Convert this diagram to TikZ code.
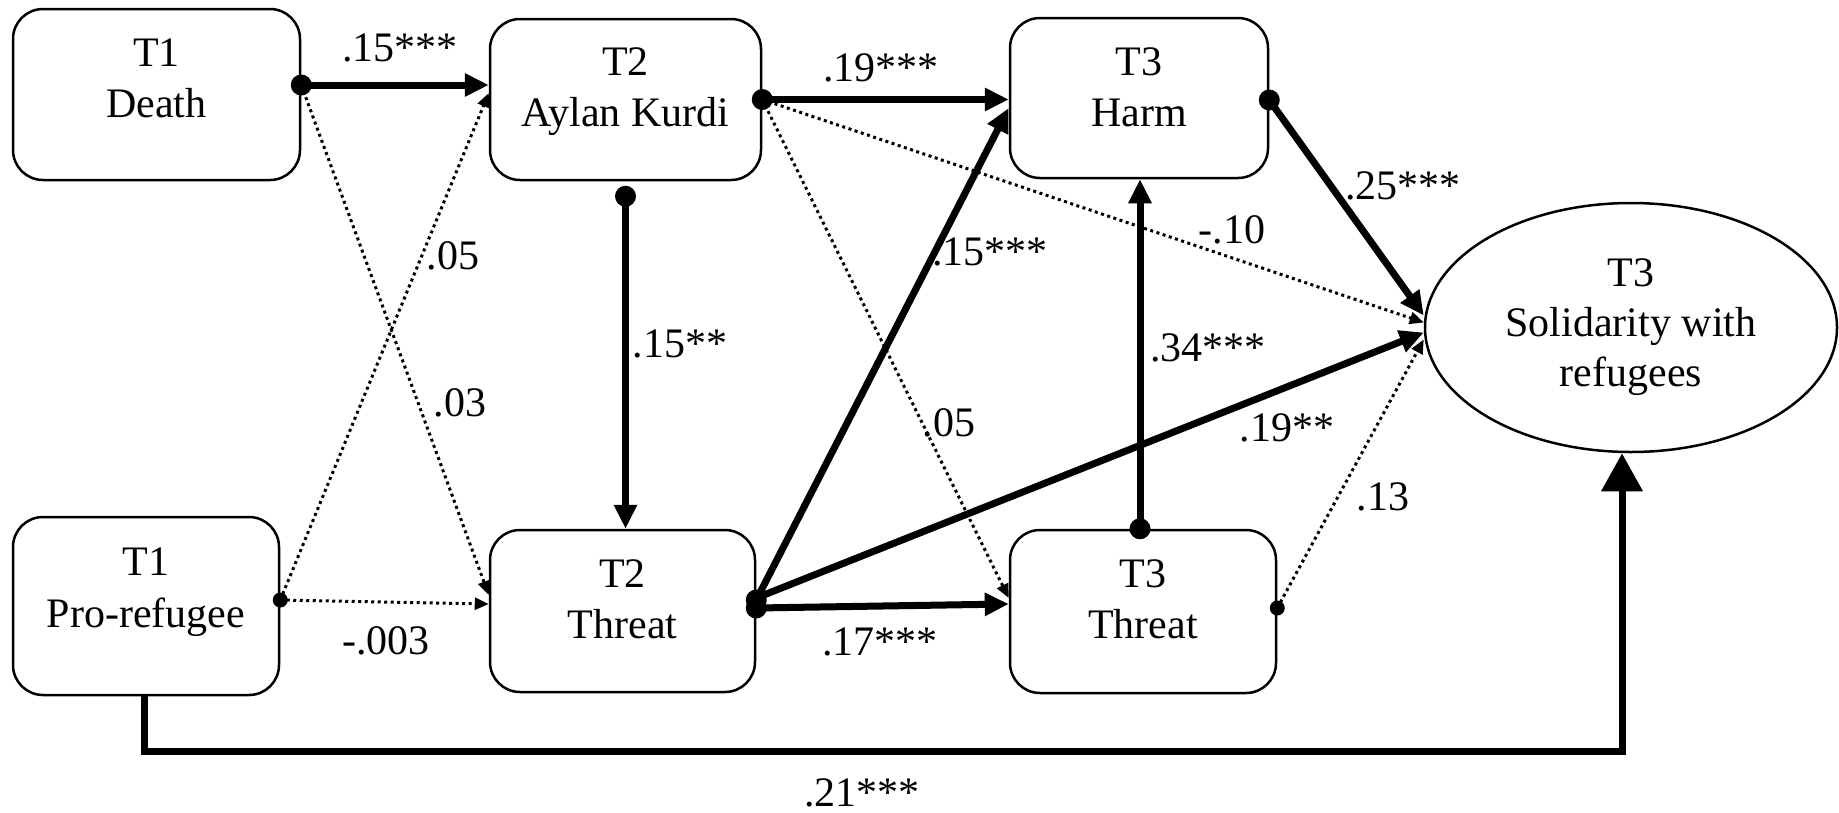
\documentclass[tikz,border=0pt]{standalone}
\usepackage{fontspec}
\setmainfont{Liberation Serif}
\usetikzlibrary{arrows.meta,shapes.geometric,calc}
\begin{document}
\begin{tikzpicture}[x=1pt,y=-1pt,
  font=\fontsize{42}{51}\selectfont,
  box/.style={draw, line width=2.5pt, rounded corners=30pt, inner sep=0pt},
  txt/.style={anchor=base, inner sep=0pt},
  lab/.style={inner sep=0pt},
  thk/.style={line width=7pt, -{Triangle[length=24pt,width=22pt]}},
  bigarr/.style={line width=7pt, -{Triangle[length=38pt,width=40pt]}},
  dots/.style={line width=3pt, dash pattern=on 3pt off 3.5pt, -{Triangle[length=14pt,width=12pt]}},
  bigdot/.style={circle, fill, inner sep=0pt, minimum size=21pt},
  smalldot/.style={circle, fill, inner sep=0pt, minimum size=15pt},
]
\useasboundingbox (0,0) rectangle (1839,812);

% boxes
\node[box, minimum width=287pt, minimum height=171pt] (death) at (156.5,94.5) {};
\node[box, minimum width=271pt, minimum height=161pt] (aylan) at (625.5,99.5) {};
\node[box, minimum width=258pt, minimum height=160pt] (harm) at (1139,98) {};
\node[box, minimum width=266pt, minimum height=178pt] (pro) at (146,606) {};
\node[box, minimum width=265pt, minimum height=162pt] (threat2) at (622.5,611) {};
\node[box, minimum width=266pt, minimum height=163pt] (threat3) at (1143,611.5) {};
\node[draw, ellipse, line width=2.5pt, minimum width=412pt, minimum height=249pt, inner sep=0pt, align=center, font=\fontsize{42}{50}\selectfont] (sol) at (1631,327.5) {T3\\Solidarity with\\refugees};

% box texts
\node[txt] (death1) at (156.5,66) {T1};
\node[txt] (death2) at (156.5,117) {Death};
\node[txt] (aylan1) at (625.5,75) {T2};
\node[txt] (aylan2) at (625.5,126) {Aylan Kurdi};
\node[txt] (harm1) at (1139,75) {T3};
\node[txt] (harm2) at (1139,126) {Harm};
\node[txt] (pro1) at (146,575) {T1};
\node[txt] (pro2) at (146,627) {Pro-refugee};
\node[txt] (threat21) at (622.5,587) {T2};
\node[txt] (threat22) at (622.5,638) {Threat};
\node[txt] (threat31) at (1143,587) {T3};
\node[txt] (threat32) at (1143,638) {Threat};

% dotted connectors
\draw[dots] ([yshift=9.5pt]death.east) -- ([yshift=16pt]threat2.west);
\draw[dots] ([yshift=6pt]pro.east) node[smalldot]{} -- ([yshift=6.5pt]aylan.west);
\draw[dots] ([yshift=6pt]pro.east) -- ([yshift=7pt]threat2.west);
\draw[dots] (aylan.east) -- ([yshift=13.5pt]threat3.west);
\draw[dots] (aylan.east) -- ([yshift=5pt]sol.west);
\draw[dots] ([yshift=3.5pt]threat3.east) node[smalldot]{} -- ([yshift=-12pt]sol.west);

% thick connectors
\draw[thk] ([yshift=9.5pt]death.east) node[bigdot]{} -- ([yshift=14.5pt]aylan.west);
\draw[thk] (aylan.east) node[bigdot]{} -- ([yshift=-1.5pt]harm.west);
\draw[thk] ([yshift=-15pt]aylan.south) node[bigdot]{} -- (aylan.south |- threat2.north);
\draw[thk] ([yshift=11pt]threat2.east) node[bigdot]{} -- ([yshift=-10pt]harm.west);
\draw[thk] ([yshift=3pt]threat2.east) node[bigdot]{} -- ([yshift=7.5pt]threat3.west);
\draw[thk] ([yshift=13pt]threat2.east) -- ([yshift=-5pt]sol.west);
\draw[thk] ([yshift=-2pt]harm.east) node[bigdot]{} -- ([yshift=12pt]sol.west);
\draw[thk] ([xshift=-3pt]threat3.north) node[bigdot]{} -- ([xshift=-3pt]threat3.north |- harm.south);
\draw[bigarr] ([xshift=-2pt]pro.south) -- ++(0,55) -| ([xshift=-9pt]sol.south);

% labels
\node[lab] (l1) at (400,48) {.15***};
\node[lab] (l2) at (881,68) {.19***};
\node[lab] (l3) at (1403,186) {.25***};
\node[lab] (l4) at (1232,230) {-.10};
\node[lab] (l5) at (990,252) {.15***};
\node[lab] (l6) at (453,256) {.05};
\node[lab] (l7) at (460,403) {.03};
\node[lab] (l8) at (680,344) {.15**};
\node[lab] (l9) at (1208,348) {.34***};
\node[lab] (l10) at (1287,428) {.19**};
\node[lab] (l11) at (949,423) {.05};
\node[lab] (l12) at (1383,497) {.13};
\node[lab] (l13) at (880,642) {.17***};
\node[lab] (l14) at (386,641) {-.003};
\node[lab] (l15) at (862,793) {.21***};
\end{tikzpicture}
\end{document}
